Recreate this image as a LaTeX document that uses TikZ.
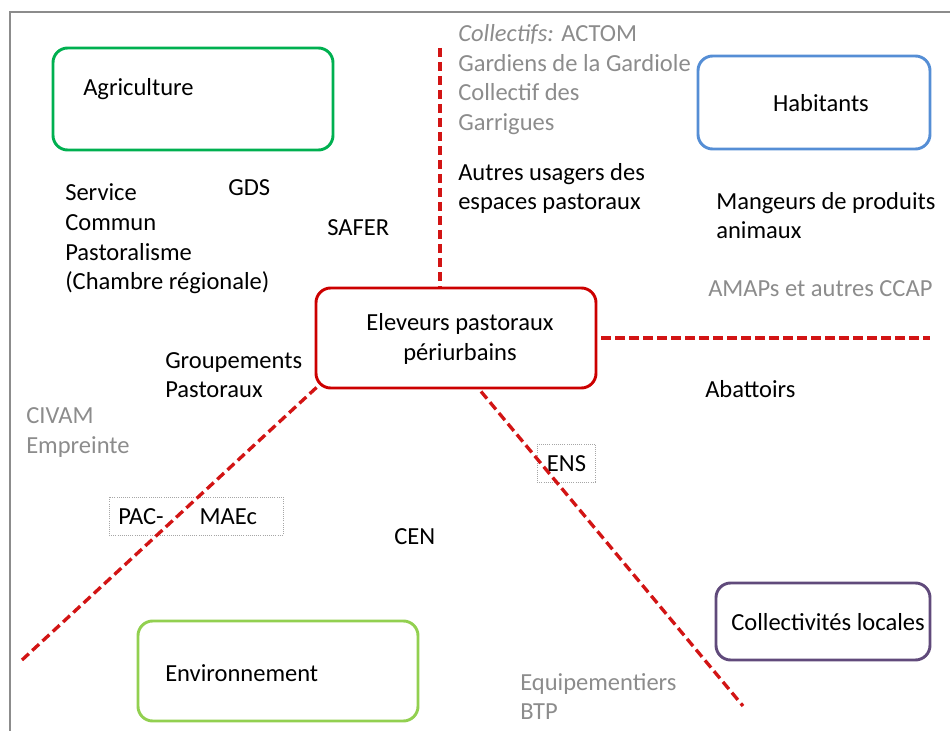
\documentclass[tikz,border=0pt]{standalone}
\usepackage{fontspec}
\setmainfont{Carlito}
\usetikzlibrary{positioning,calc}
\definecolor{poleagri}{RGB}{0,176,80}
\definecolor{polehab}{RGB}{85,142,213}
\definecolor{poleelev}{RGB}{204,0,0}
\definecolor{polecoll}{RGB}{96,74,123}
\definecolor{poleenv}{RGB}{146,208,80}
\definecolor{splitred}{RGB}{210,20,20}
\definecolor{actorgray}{RGB}{140,140,140}

\begin{document}
\begin{tikzpicture}[x=0.75pt,y=-0.75pt,font=\fontsize{18.4}{22.2}\selectfont,
  pole/.style={draw=#1,line width=2.2pt,rounded corners=11pt,inner sep=0pt},
  tagbox/.style={draw=black!35,densely dotted,line width=0.6pt,inner sep=0pt},
  split/.style={splitred,line width=2.5pt,dash pattern=on 7pt off 3.5pt},
  actor/.style={anchor=west,align=left,inner sep=0pt}]
\useasboundingbox (0,0) rectangle (950,731);
\draw[actorgray,line width=1.1pt] (950,12) -- (10,12) -- (10,731);
\node[pole=poleagri,minimum width=210pt,minimum height=76.5pt] (agri) at (193,99) {};
\node[actor] (agrilbl) at (83,89) {Agriculture};
\node[pole=polehab,minimum width=174pt,minimum height=69.75pt] (hab) at (814,102.5) {};
\node (hablbl) at (821,103) {Habitants};
\node[pole=poleelev,minimum width=210pt,minimum height=75pt] (elev) at (456,338) {};
\node[align=center] (elevlbl) at (460,339) {Eleveurs pastoraux\\périurbains};
\node[pole=polecoll,minimum width=160.5pt,minimum height=57.75pt] (coll) at (823,621.5) {};
\node (colllbl) at (828,622) {Collectivités locales};
\node[pole=poleenv,minimum width=210pt,minimum height=75pt] (env) at (278,671) {};
\node[actor] (envlbl) at (165,673) {Environnement};
\node[tagbox,minimum width=130.5pt,minimum height=28.5pt] (pac) at (196,516) {};
\node[actor] (paclbl) at (118,517) {PAC-\hspace{27pt}MAEc};
\node[tagbox,minimum width=44pt,minimum height=29pt] (ens) at (566.5,463.5) {ENS};
\coordinate (vtop) at (440,48);
\coordinate (hend) at (930,338);
\coordinate (swend) at (22,660);
\coordinate (seend) at (743,706);
\draw[split] (vtop) -- (vtop |- elev.north);
\draw[split] ([xshift=3pt]elev.east) -- (elev.east -| hend);
\draw[split] ([shift={(2,-2)}]elev.south west) -- (swend);
\draw[split] ($(elev.south)+(25,2)$) -- (seend);
\foreach \n/\x/\y/\t in {service/65/239/{Service\\Commun\\Pastoralisme\\(Chambre régionale)},
                         gds/228/188/GDS,safer/327/228/SAFER,
                         usagers/458/188.5/{Autres usagers des\\espaces pastoraux},
                         mangeurs/716/215.5/{Mangeurs de produits\\animaux},
                         groupements/165/375/{Groupements\\Pastoraux},
                         abattoirs/705/389/Abattoirs,cen/394/537/CEN}
  \node[actor] (\n) at (\x,\y) {\t};
\foreach \n/\x/\y/\t in {collectifs/458/79.5/{\textit{Collectifs:} ACTOM\\Gardiens de la Gardiole\\Collectif des\\Garrigues},
                         amap/708/289/{AMAPs et autres CCAP},
                         civam/26/432.5/{CIVAM\\Empreinte},
                         equip/520/696.5/{Equipementiers\\BTP}}
  \node[actor,text=actorgray] (\n) at (\x,\y) {\t};
\end{tikzpicture}
\end{document}
